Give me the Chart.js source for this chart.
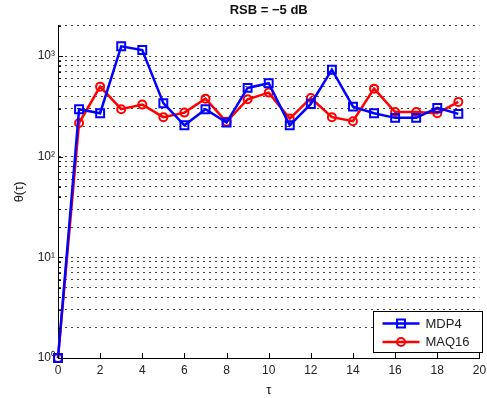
<!DOCTYPE html>
<html>
<head>
<meta charset="utf-8">
<script src="https://cdn.jsdelivr.net/npm/chart.js@4"></script>
<style>
  html, body { margin: 0; padding: 0; background: #fff; }
  #c { display: block; }
</style>
</head>
<body>
<canvas id="c" width="487" height="398"></canvas>
<script>
// data
const tau = [0, 1, 2, 3, 4, 5, 6, 7, 8, 9, 10, 11, 12, 13, 14, 15, 16, 17, 18, 19];
const mdp4 = [1, 296, 270, 1248, 1147, 340, 205, 296, 218, 482, 536, 205, 334, 731, 314, 270, 243, 243, 305, 266];
const maq16 = [1, 216, 496, 296, 329, 247, 274, 377, 222, 372, 433, 239, 383, 247, 225, 474, 278, 278, 270, 350];
const xTicks = [0, 2, 4, 6, 8, 10, 12, 14, 16, 18, 20];
const yDecades = [1, 10, 100, 1000];
const yMinor = [2, 3, 4, 5, 6, 7, 8, 9];
const yMax = 2000;
const sup = ['⁰', '¹', '²', '³'];

const FONT = "'Liberation Sans', Arial, sans-serif";

function yTickList() {
    const out = [];
    yDecades.forEach(d => {
        out.push({ value: d, major: true });
        yMinor.forEach(m => { if (d * m <= yMax) out.push({ value: d * m, major: false }); });
    });
    return out;
}

// inward tick marks, matlab style
const innerTicks = {
    id: 'innerTicks',
    afterDatasetsDraw(chart) {
        const ctx = chart.ctx, a = chart.chartArea;
        const xs = chart.scales.x, ys = chart.scales.y;
        ctx.save();
        ctx.strokeStyle = '#000';
        ctx.lineWidth = 1;
        ctx.setLineDash([]);
        ctx.beginPath();
        xTicks.forEach(v => {
            const px = Math.round(xs.getPixelForValue(v)) + 0.5;
            ctx.moveTo(px, a.bottom); ctx.lineTo(px, a.bottom - 5);
        });
        ys.ticks.forEach(t => {
            const py = Math.round(ys.getPixelForValue(t.value)) + 0.5;
            ctx.moveTo(a.left, py); ctx.lineTo(a.left + (t.major ? 5 : 3), py);
        });
        ctx.stroke();
        ctx.restore();
    }
};

// boxed legend in lower right corner
const boxLegend = {
    id: 'boxLegend',
    afterDraw(chart) {
        const ctx = chart.ctx;
        const x0 = 373.5, y0 = 311.5, w = 109, h = 41;
        ctx.save();
        ctx.setLineDash([]);
        ctx.fillStyle = '#fff';
        ctx.fillRect(x0, y0, w, h);
        ctx.strokeStyle = '#000';
        ctx.lineWidth = 1;
        ctx.strokeRect(x0, y0, w, h);
        chart.data.datasets.forEach((ds, i) => {
            const y = y0 + 12 + i * 18.5;
            ctx.strokeStyle = ds.borderColor;
            ctx.lineWidth = ds.borderWidth;
            ctx.beginPath();
            ctx.moveTo(x0 + 9, y); ctx.lineTo(x0 + 46, y);
            ctx.stroke();
            ctx.fillStyle = 'rgba(0,0,0,0)';
            ctx.lineWidth = ds.pointBorderWidth;
            Chart.helpers.drawPoint(ctx, {
                pointStyle: ds.pointStyle, radius: ds.pointRadius, borderWidth: ds.pointBorderWidth, rotation: 0
            }, x0 + 27.5, y);
            ctx.fillStyle = '#222';
            ctx.font = '13px ' + FONT;
            ctx.textBaseline = 'middle';
            ctx.fillText(ds.label, x0 + 52, y + 0.5);
        });
        ctx.restore();
    }
};

new Chart(document.getElementById('c'), {
    type: 'line',
    data: {
        datasets: [
            {
                label: 'MDP4',
                data: tau.map((t, i) => ({ x: t, y: mdp4[i] })),
                borderColor: '#0000ff', backgroundColor: 'rgba(0,0,0,0)',
                borderWidth: 2.5, pointStyle: 'rect', pointRadius: 5.6,
                pointBorderWidth: 2, pointBorderColor: '#0000ff', pointBackgroundColor: 'rgba(0,0,0,0)'
            },
            {
                label: 'MAQ16',
                data: tau.map((t, i) => ({ x: t, y: maq16[i] })),
                borderColor: '#ff0000', backgroundColor: 'rgba(0,0,0,0)',
                borderWidth: 2.5, pointStyle: 'circle', pointRadius: 4,
                pointBorderWidth: 2, pointBorderColor: '#ff0000', pointBackgroundColor: 'rgba(0,0,0,0)'
            }
        ]
    },
    options: {
        responsive: false,
        animation: false,
        clip: false,
        layout: { padding: { left: 0, right: 4, top: 0, bottom: 0 } },
        plugins: {
            legend: { display: false },
            tooltip: { enabled: false },
            title: {
                display: true, text: 'RSB = −5 dB', fullSize: false,
                color: '#111', font: { family: FONT, size: 13, weight: 'bold' },
                padding: { top: 3, bottom: 7.1 }
            }
        },
        scales: {
            x: {
                type: 'linear', min: 0, max: 20,
                afterBuildTicks: s => { s.ticks = xTicks.map(v => ({ value: v })); },
                afterFit: s => { s.height = 40; s.paddingRight = 0; s.paddingLeft = 0; },
                grid: { display: false, drawTicks: false },
                border: { display: true, color: '#000', width: 1 },
                ticks: { color: '#222', font: { family: FONT, size: 12 }, padding: 5, autoSkip: false, maxRotation: 0 },
                title: { display: true, text: 'τ', color: '#111', font: { family: FONT, size: 13 }, padding: { top: 1, bottom: 0 } }
            },
            y: {
                type: 'logarithmic', min: 1, max: yMax,
                afterBuildTicks: s => { s.ticks = yTickList(); },
                afterFit: s => { s.width = 58; s.paddingTop = 0; s.paddingBottom = 0; },
                grid: {
                    drawTicks: false,
                    color: '#444', lineWidth: 1
                },
                border: { display: true, color: '#000', width: 1, dash: [2, 4] },
                ticks: {
                    color: '#222', font: { family: FONT, size: 12 }, padding: 3, autoSkip: false,
                    callback: v => {
                        const i = yDecades.indexOf(v);
                        return i >= 0 ? '10' + sup[i] : '';
                    }
                },
                title: { display: true, text: 'θ(τ)', color: '#111', font: { family: FONT, size: 13 }, padding: { top: 12, bottom: 0 } }
            }
        }
    },
    plugins: [innerTicks, boxLegend]
});
</script>
</body>
</html>
